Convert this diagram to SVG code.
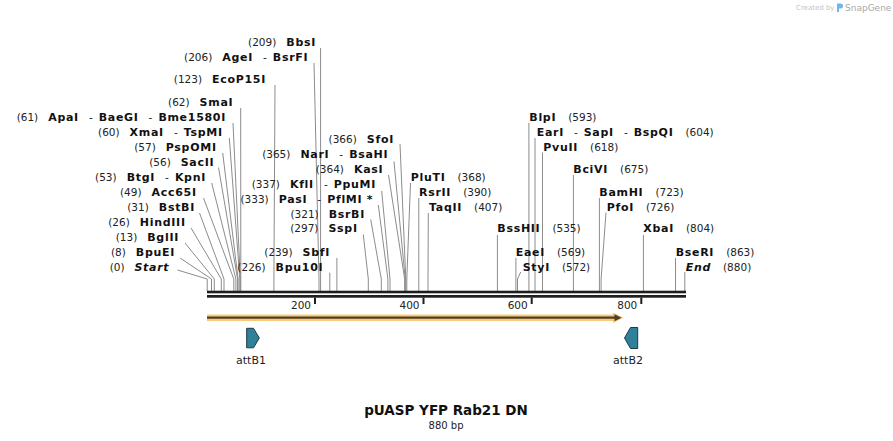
<svg xmlns="http://www.w3.org/2000/svg" width="893" height="441" viewBox="0 0 893 441">
<style>
text{font-family:"DejaVu Sans","Verdana",sans-serif;fill:#111}
.L{text-anchor:end}
.n{font-size:10.5px;font-weight:normal;fill:#222;letter-spacing:0}
.b{font-size:11px;font-weight:bold;letter-spacing:0.7px}
.i{font-style:italic}
.d{font-size:10.5px;font-weight:normal;letter-spacing:0}
.c{stroke:#8c8c8c;stroke-width:1;fill:none}
.tk{font-size:10.5px;text-anchor:end;fill:#222}
.ft{font-size:11px;text-anchor:middle;fill:#222}
.att{fill:#2f8099;stroke:#1d3a44;stroke-width:1}
</style>
<rect width="893" height="441" fill="#fff"/>

<g id="logo">
<text x="796" y="10" style="font-size:7px;fill:#c4c4c4">Created by</text>
<path d="M837 3.5h3.5a2.5 2.5 0 0 1 0 5H839v3.5h-2z" fill="#6fb6ea"/>
<text x="845" y="11" style="font-size:9px;fill:#a8a8a8">SnapGene</text>
</g>

<g id="connectors">
<path class="c" d="M320.6 48V291"/>
<path class="c" d="M314 63L319 279V291"/>
<path class="c" d="M275 85L273.9 279V291"/>
<path class="c" d="M240.7 108L240.8 279V291"/>
<path class="c" d="M233 123L240.3 279V291"/>
<path class="c" d="M229.3 138L239.8 279V291"/>
<path class="c" d="M222.7 153L238.1 279V291"/>
<path class="c" d="M218.5 167.5L237.6 279V291"/>
<path class="c" d="M211.7 183L235.9 279V291"/>
<path class="c" d="M203.5 198L233.8 279V291"/>
<path class="c" d="M199.5 213L224 279V291"/>
<path class="c" d="M191 228L221.3 279V291"/>
<path class="c" d="M185 243L214.3 279V291"/>
<path class="c" d="M180 258L211.5 279V291"/>
<path class="c" d="M177.5 270L207.2 279V291"/>
<path class="c" d="M400 144L405.8 279V291"/>
<path class="c" d="M394 161.5L405.2 279V291"/>
<path class="c" d="M388.5 175L404.7 279V291"/>
<path class="c" d="M381.7 191L390 279V291"/>
<path class="c" d="M378.3 205L387.9 279V291"/>
<path class="c" d="M370.7 219.5L381.3 279V291"/>
<path class="c" d="M363.3 234.5L368.3 279V291"/>
<path class="c" d="M336.9 258V291"/>
<path class="c" d="M329.8 272.7V291"/>
<path class="c" d="M410.5 183L406.8 279V291"/>
<path class="c" d="M418.8 198V291"/>
<path class="c" d="M428.3 213L428 279V291"/>
<path class="c" d="M528.9 123V291"/>
<path class="c" d="M535 138V291"/>
<path class="c" d="M542.5 152.5V291"/>
<path class="c" d="M573.4 175V291"/>
<path class="c" d="M599.4 198V291"/>
<path class="c" d="M606 212.5L601.1 279V291"/>
<path class="c" d="M497.4 235V291"/>
<path class="c" d="M643.4 235V291"/>
<path class="c" d="M515.9 258V291"/>
<path class="c" d="M675.5 258V291"/>
<path class="c" d="M520.7 272L517.5 279V291"/>
<path class="c" d="M684.8 272V291"/>
</g>

<g id="sites-left">
<text class="L" x="316" y="46.3"><tspan class="n">(209)</tspan><tspan class="b" dx="10">BbsI</tspan></text>
<text class="L" x="308.3" y="60.7"><tspan class="n">(206)</tspan><tspan class="b" dx="10">AgeI</tspan><tspan class="d" dx="10">-</tspan><tspan class="b" dx="6">BsrFI</tspan></text>
<text class="L" x="266" y="83.3"><tspan class="n">(123)</tspan><tspan class="b" dx="10">EcoP15I</tspan></text>
<text class="L" x="233.3" y="105.7"><tspan class="n">(62)</tspan><tspan class="b" dx="10">SmaI</tspan></text>
<text class="L" x="226" y="120.5"><tspan class="n">(61)</tspan><tspan class="b" dx="10">ApaI</tspan><tspan class="d" dx="10">-</tspan><tspan class="b" dx="6">BaeGI</tspan><tspan class="d" dx="10">-</tspan><tspan class="b" dx="6">Bme1580I</tspan></text>
<text class="L" x="222.7" y="135.7"><tspan class="n">(60)</tspan><tspan class="b" dx="10">XmaI</tspan><tspan class="d" dx="10">-</tspan><tspan class="b" dx="6">TspMI</tspan></text>
<text class="L" x="216.7" y="150.7"><tspan class="n">(57)</tspan><tspan class="b" dx="10">PspOMI</tspan></text>
<text class="L" x="214.3" y="165.7"><tspan class="n">(56)</tspan><tspan class="b" dx="10">SacII</tspan></text>
<text class="L" x="206" y="181"><tspan class="n">(53)</tspan><tspan class="b" dx="10">BtgI</tspan><tspan class="d" dx="10">-</tspan><tspan class="b" dx="6">KpnI</tspan></text>
<text class="L" x="196.7" y="196"><tspan class="n">(49)</tspan><tspan class="b" dx="10">Acc65I</tspan></text>
<text class="L" x="195" y="211"><tspan class="n">(31)</tspan><tspan class="b" dx="10">BstBI</tspan></text>
<text class="L" x="185.7" y="226"><tspan class="n">(26)</tspan><tspan class="b" dx="10">HindIII</tspan></text>
<text class="L" x="179" y="241"><tspan class="n">(13)</tspan><tspan class="b" dx="10">BglII</tspan></text>
<text class="L" x="175" y="256"><tspan class="n">(8)</tspan><tspan class="b" dx="10">BpuEI</tspan></text>
<text class="L" x="169.3" y="270.7"><tspan class="n">(0)</tspan><tspan class="b i" dx="10">Start</tspan></text>
</g>

<g id="sites-middle">
<text class="L" x="394" y="143"><tspan class="n">(366)</tspan><tspan class="b" dx="10">SfoI</tspan></text>
<text class="L" x="388.3" y="158"><tspan class="n">(365)</tspan><tspan class="b" dx="10">NarI</tspan><tspan class="d" dx="10">-</tspan><tspan class="b" dx="6">BsaHI</tspan></text>
<text class="L" x="383.3" y="173"><tspan class="n">(364)</tspan><tspan class="b" dx="10">KasI</tspan></text>
<text class="L" x="376" y="188"><tspan class="n">(337)</tspan><tspan class="b" dx="10">KflI</tspan><tspan class="d" dx="10">-</tspan><tspan class="b" dx="6">PpuMI</tspan></text>
<text class="L" x="373.3" y="203"><tspan class="n">(333)</tspan><tspan class="b" dx="10">PasI</tspan><tspan class="d" dx="10">-</tspan><tspan class="b" dx="6">PflMI *</tspan></text>
<text class="L" x="365" y="218"><tspan class="n">(321)</tspan><tspan class="b" dx="10">BsrBI</tspan></text>
<text class="L" x="357.7" y="232.3"><tspan class="n">(297)</tspan><tspan class="b" dx="10">SspI</tspan></text>
<text class="L" x="330" y="256.3"><tspan class="n">(239)</tspan><tspan class="b" dx="10">SbfI</tspan></text>
<text class="L" x="323.3" y="270.7"><tspan class="n">(226)</tspan><tspan class="b" dx="10">Bpu10I</tspan></text>
</g>

<g id="sites-right">
<text x="410.7" y="180.7"><tspan class="b">PluTI</tspan><tspan class="n" dx="12">(368)</tspan></text>
<text x="419" y="195.7"><tspan class="b">RsrII</tspan><tspan class="n" dx="12">(390)</tspan></text>
<text x="429" y="211"><tspan class="b">TaqII</tspan><tspan class="n" dx="12">(407)</tspan></text>
<text x="529.3" y="120.7"><tspan class="b">BlpI</tspan><tspan class="n" dx="12">(593)</tspan></text>
<text x="536.7" y="135.7"><tspan class="b">EarI</tspan><tspan class="d" dx="10">-</tspan><tspan class="b" dx="6">SapI</tspan><tspan class="d" dx="10">-</tspan><tspan class="b" dx="6">BspQI</tspan><tspan class="n" dx="12">(604)</tspan></text>
<text x="543.3" y="150.7"><tspan class="b">PvuII</tspan><tspan class="n" dx="12">(618)</tspan></text>
<text x="573.3" y="173.3"><tspan class="b">BciVI</tspan><tspan class="n" dx="12">(675)</tspan></text>
<text x="599.3" y="195.7"><tspan class="b">BamHI</tspan><tspan class="n" dx="12">(723)</tspan></text>
<text x="606.7" y="210.7"><tspan class="b">PfoI</tspan><tspan class="n" dx="12">(726)</tspan></text>
<text x="497.3" y="232.3"><tspan class="b">BssHII</tspan><tspan class="n" dx="12">(535)</tspan></text>
<text x="643.3" y="232.3"><tspan class="b">XbaI</tspan><tspan class="n" dx="12">(804)</tspan></text>
<text x="515.7" y="255.7"><tspan class="b">EaeI</tspan><tspan class="n" dx="12">(569)</tspan></text>
<text x="675.7" y="255.7"><tspan class="b">BseRI</tspan><tspan class="n" dx="12">(863)</tspan></text>
<text x="522.7" y="270.7"><tspan class="b">StyI</tspan><tspan class="n" dx="12">(572)</tspan></text>
<text x="685.7" y="270.7"><tspan class="b i">End</tspan><tspan class="n" dx="12">(880)</tspan></text>
</g>

<g id="sequence">
<rect x="207" y="290.7" width="479" height="2.6" fill="#1e1e1e"/>
<rect x="207" y="295" width="479" height="2.7" fill="#1e1e1e"/>
<path d="M315 297.5V304M423.5 297.5V304M531.7 297.5V304M641.3 297.5V304" stroke="#1e1e1e" stroke-width="2"/>
<text class="tk" x="311" y="308.5">200</text>
<text class="tk" x="419.5" y="308.5">400</text>
<text class="tk" x="527.7" y="308.5">600</text>
<text class="tk" x="637.3" y="308.5">800</text>
</g>

<g id="orf">
<path d="M207 317.7H617" stroke="#f8c46a" stroke-width="6.5" opacity="0.9"/>
<path d="M613 312.5L623.5 317.7L613 323Z" fill="#f8c46a" opacity="0.9"/>
<path d="M207 317.7H616" stroke="#4e3f26" stroke-width="2.2"/>
<path d="M614.5 314.3L621.5 317.7L614.5 321.2Z" fill="#4e3f26"/>
</g>

<g id="attB1">
<path class="att" d="M246.7 328.3H253.5L259.3 338L253.5 347.8H246.7Z"/>
<text class="ft" x="251" y="363.5">attB1</text>
</g>

<g id="attB2">
<path class="att" d="M637.7 327.5H630.5L624.5 338L630.5 348.5H637.7Z"/>
<text class="ft" x="628" y="363.5">attB2</text>
</g>

<g id="title">
<text x="446" y="414.5" style="font-size:13.5px;font-weight:bold;text-anchor:middle">pUASP YFP Rab21 DN</text>
<text x="446" y="428.5" style="font-size:10px;text-anchor:middle;fill:#222">880 bp</text>
</g>
</svg>
